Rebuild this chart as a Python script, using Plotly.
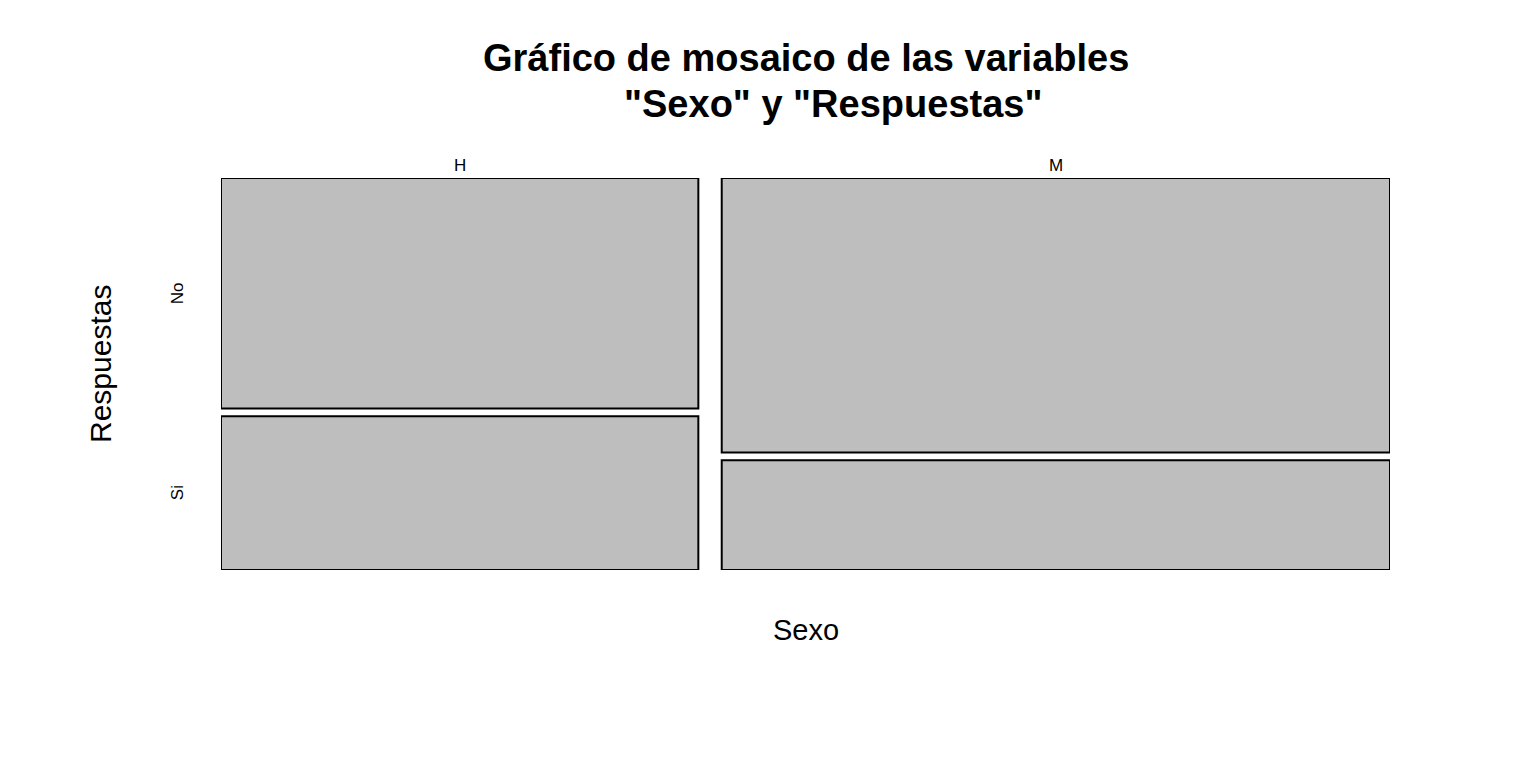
import plotly.graph_objects as go

sexo = ["H", "M"]
respuestas = ["No", "Si"]
# counts per sexo for each respuesta
counts_no = [30, 50]
counts_si = [20, 20]

gap = 0.02
fill = "#BEBEBE"

W, H = 1536, 768
L, R, T, B = 221, 146, 178, 198
PW, PH = W - L - R, H - T - B


def px(xp):
    return (xp - L) / PW


def py(yp):
    return (H - B - yp) / PH


total = sum(counts_no) + sum(counts_si)
col_tot = [counts_no[i] + counts_si[i] for i in range(len(sexo))]
avail_x = 1 - gap * (len(sexo) - 1)

fig = go.Figure()
x0 = 0.0
centers = []
for i, s in enumerate(sexo):
    w = avail_x * col_tot[i] / total
    cx = x0 + w / 2
    centers.append(cx)
    avail_y = 1 - gap
    h_si = avail_y * counts_si[i] / col_tot[i]
    h_no = avail_y * counts_no[i] / col_tot[i]
    fig.add_trace(go.Bar(x=[cx], y=[h_si], base=[0], width=[w],
                         marker=dict(color=fill, line=dict(color="black", width=2)),
                         showlegend=False, hoverinfo="skip"))
    fig.add_trace(go.Bar(x=[cx], y=[h_no], base=[h_si + gap], width=[w],
                         marker=dict(color=fill, line=dict(color="black", width=2)),
                         showlegend=False, hoverinfo="skip"))
    if i == 0:
        y_si_c = h_si / 2
        y_no_c = h_si + gap + h_no / 2
    x0 += w + gap

font = "Liberation Sans, Arial, sans-serif"
ann = []
for s, cx in zip(sexo, centers):
    ann.append(dict(x=cx, y=1, xref="x", yref="y", text=s, showarrow=False,
                    yanchor="middle", yshift=13, font=dict(size=17, color="black")))
for r, yc in zip(respuestas, [y_no_c, y_si_c]):
    ann.append(dict(x=0, y=yc, xref="paper", yref="y", text=r, showarrow=False,
                    textangle=-90, xanchor="center", xshift=-44,
                    font=dict(size=17, color="black")))
ann.append(dict(x=px(100), y=py(364), xref="paper", yref="paper", text="Respuestas",
                showarrow=False, textangle=-90, font=dict(size=30, color="black"),
                xanchor="center", yanchor="middle"))
ann.append(dict(x=px(806), y=py(630), xref="paper", yref="paper", text="Sexo",
                showarrow=False, font=dict(size=29, color="black"),
                xanchor="center", yanchor="middle"))
ann.append(dict(x=px(806), y=py(58), xref="paper", yref="paper",
                text="<b>Gráfico de mosaico de las variables</b>",
                showarrow=False, font=dict(size=38, color="black"),
                xanchor="center", yanchor="middle"))
ann.append(dict(x=px(833), y=py(104), xref="paper", yref="paper",
                text="<b>\"Sexo\" y \"Respuestas\"</b>",
                showarrow=False, font=dict(size=38, color="black"),
                xanchor="center", yanchor="middle"))

fig.update_layout(
    width=W, height=H,
    margin=dict(l=L, r=R, t=T, b=B),
    paper_bgcolor="white", plot_bgcolor="white",
    barmode="overlay",
    font=dict(family=font, color="black"),
    xaxis=dict(range=[0, 1], visible=False, fixedrange=True),
    yaxis=dict(range=[0, 1], visible=False, fixedrange=True),
    annotations=ann,
)

fig.write_html("out.html")
